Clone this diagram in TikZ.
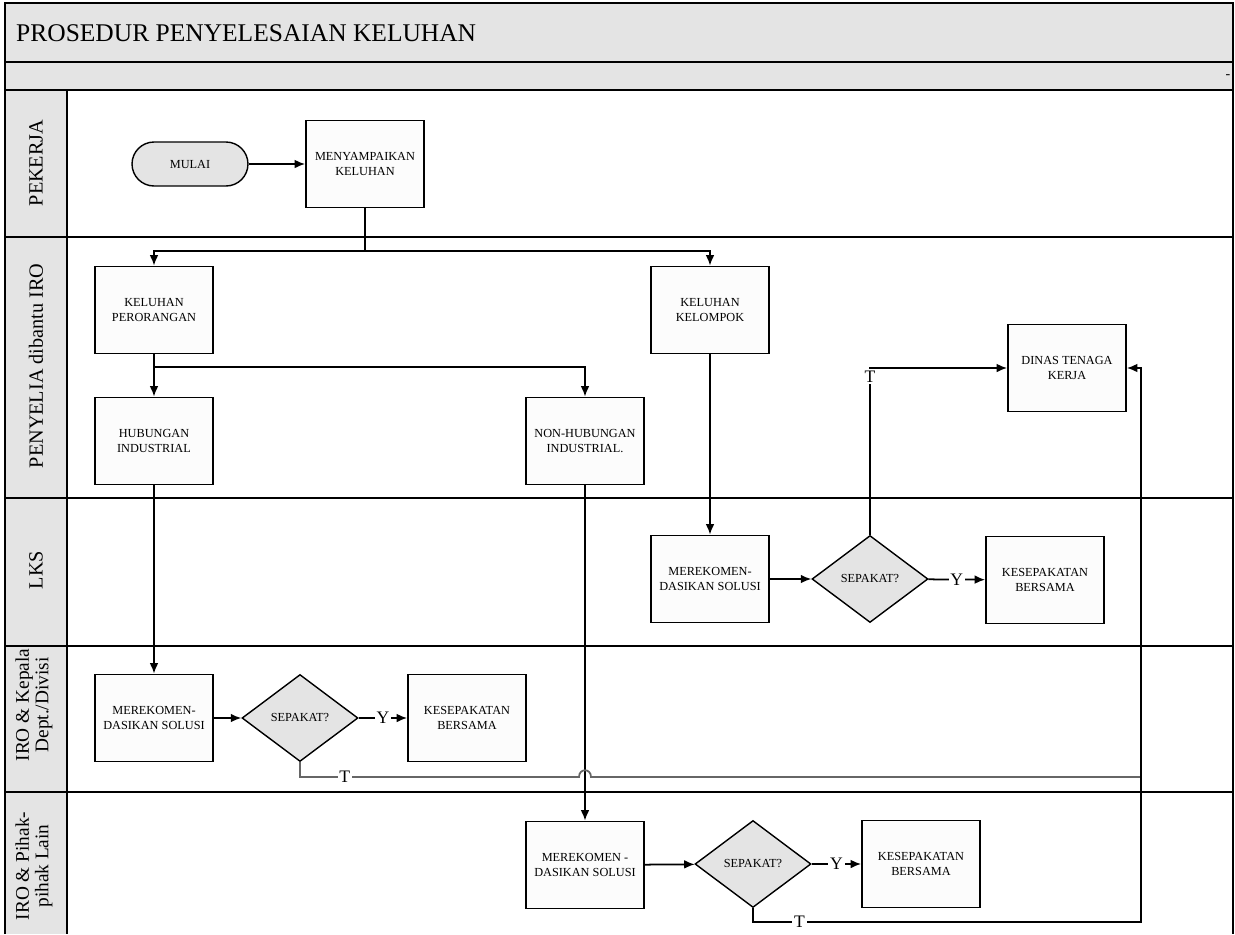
\documentclass[tikz,border=0pt]{standalone}
\usepackage{fontspec}
\setmainfont{Liberation Serif}
\usetikzlibrary{positioning,shapes.geometric,arrows.meta}
\tikzset{>={Latex[length=6pt,width=5pt]}}
\definecolor{abu}{HTML}{E4E4E4}
\definecolor{abutua}{HTML}{666666}

\tikzset{
  garis/.style={line width=1.1pt},
  proses/.style={draw,line width=1pt,fill=gray!2,minimum width=2.36cm,minimum height=1.74cm,
    align=center,inner sep=1pt,font=\fontsize{7}{8.5}\selectfont},
  keputusan/.style={diamond,draw,line width=0.8pt,fill=abu,minimum width=2.32cm,minimum height=1.74cm,
    inner sep=0pt,font=\fontsize{7}{8.5}\selectfont},
  terminal/.style={draw,line width=0.8pt,fill=abu,rounded corners=0.44cm,minimum width=2.32cm,
    minimum height=0.88cm,font=\fontsize{7}{8.5}\selectfont},
  lajur/.style={rotate=90,align=center,font=\fontsize{11.5}{11}\selectfont},
  alur/.style={->,line width=1pt},
  tanda/.style={fill=white,inner sep=1pt,font=\fontsize{10}{10}\selectfont}
}

\begin{document}
\begin{tikzpicture}[x=0.02cm,y=-0.02cm]
\useasboundingbox (0,0) rectangle (1235,934);
% Frame, bands and lanes
\fill[abu] (5,3) rectangle (1233,90);
\fill[abu] (5,90) rectangle (67,934);
\draw[garis] (5,934) -- (5,3) -- (1233,3) -- (1233,934);
\foreach \y in {62,90,237,498,646,792}
  \draw[garis] (5,\y) -- (1233,\y);
\draw[garis] (67,90) -- (67,934);
\node[anchor=west,font=\fontsize{14.5}{16}\selectfont] (judul) at (10,33) {PROSEDUR PENYELESAIAN KELUHAN};
\node[font=\fontsize{8}{8}\selectfont] (strip) at (1228,77) {-};

% Lane labels
\node[lajur] (l-pekerja) at (36,163) {PEKERJA};
\node[lajur] (l-penyelia) at (36,366) {PENYELIA dibantu IRO};
\node[lajur] (l-lks) at (36,570) {LKS};
\node[lajur,font=\fontsize{11}{11}\selectfont] (l-kepala) at (34,705) {IRO \& Kepala\\Dept./Divisi};
\node[lajur,font=\fontsize{11}{11}\selectfont] (l-pihak) at (34,866) {IRO \& Pihak-\\pihak Lain};

% Pekerja
\node[terminal] (mulai) at (190,164) {MULAI};
\node[proses] (menyampaikan) at (365,164) {MENYAMPAIKAN\\KELUHAN};

% Penyelia dibantu IRO
\node[proses] (perorangan) at (154,310) {KELUHAN\\PERORANGAN};
\node[proses] (kelompok) at (710,310) {KELUHAN\\KELOMPOK};
\node[proses] (dinas) at (1067,368) {DINAS TENAGA\\KERJA};
\node[proses] (hubungan) at (154,441) {HUBUNGAN\\INDUSTRIAL};
\node[proses] (nonhub) at (585,441) {NON-HUBUNGAN\\INDUSTRIAL.};

% LKS
\node[proses] (lks-rekom) at (710,579) {MEREKOMEN-\\DASIKAN SOLUSI};
\node[keputusan] (lks-sepakat) at (870,579) {SEPAKAT?};
\node[proses] (lks-sepakati) at (1045,580) {KESEPAKATAN\\BERSAMA};

% IRO & Kepala Dept./Divisi
\node[proses] (kpl-rekom) at (154,718) {MEREKOMEN-\\DASIKAN SOLUSI};
\node[keputusan] (kpl-sepakat) at (300,718) {SEPAKAT?};
\node[proses] (kpl-sepakati) at (467,718) {KESEPAKATAN\\BERSAMA};

% IRO & Pihak-pihak Lain
\node[proses] (phk-rekom) at (585,865) {MEREKOMEN -\\DASIKAN SOLUSI};
\node[keputusan] (phk-sepakat) at (753,864) {SEPAKAT?};
\node[proses] (phk-sepakati) at (921,864) {KESEPAKATAN\\BERSAMA};

% Connectors
\draw[alur] (mulai) -- (menyampaikan);
\coordinate (cabang1) at (365,251);
\draw[alur] (menyampaikan.south) -- (cabang1) -| (perorangan.north);
\draw[alur] (cabang1) -| (kelompok.north);
\coordinate (cabang2) at (154,367);
\draw[alur] (perorangan) -- (hubungan);
\draw[alur] (cabang2) -| (nonhub.north);
\draw[alur] (hubungan) -- (kpl-rekom);
\draw[alur] (kelompok) -- (lks-rekom);
\draw[alur] (nonhub) -- (phk-rekom);
\foreach \r in {lks,kpl,phk} {
  \draw[alur] (\r-rekom) -- (\r-sepakat);
  \draw[alur] (\r-sepakat) -- node[tanda] {Y} (\r-sepakati);
}

% Tidak sepakat
\draw[alur] (lks-sepakat.north) |- node[tanda,pos=0.5,anchor=north] {T} (dinas.west);
\coordinate (hop-a) at (579,777);
\coordinate (hop-b) at (591,777);
\coordinate (gabung) at (1141,777);
\draw[line width=1pt,abutua] (kpl-sepakat.south) |- node[tanda,pos=0.58,text=black] {T} (hop-a)
  .. controls +(0,-9) and +(0,-9) .. (hop-b) -- (gabung);
\coordinate (belok) at (1141,922);
\draw[alur] (phk-sepakat.south) |- node[tanda,pos=0.56] {T} (belok) |- (dinas.east);
\end{tikzpicture}
\end{document}
